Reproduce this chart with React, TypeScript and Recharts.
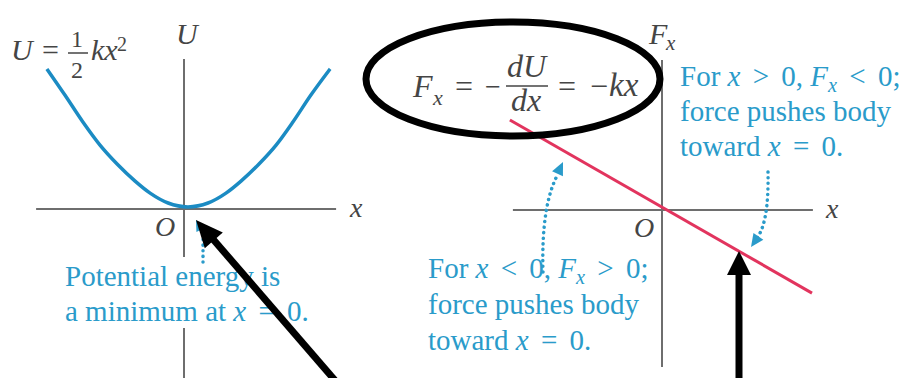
import React from "react";
import { LineChart, Line, XAxis, YAxis, ReferenceLine } from "recharts";

// Left panel: potential energy U = 1/2 k x^2
const uX = [-4.57, -3.97, -3.37, -2.8, -2.23, -1.63, -1.13, -0.53, 0.13, 0.8, 1.4, 1.9, 2.5, 3.07, 3.63, 4.23, 4.87];
const uValues = [4.67, 3.8, 2.9, 2.13, 1.5, 0.93, 0.53, 0.2, 0.07, 0.2, 0.53, 0.93, 1.5, 2.13, 2.9, 3.8, 4.67];

// Right panel: force F_x = -k x
const fX = [-5.07, 5.0];
const fValues = [3.0, -2.77];

// Axis extents (in chart units)
const leftXAxisRange = [-4.93, 5.07];
const leftYAxisSegments = [
  [5.0, -1.6],
  [-3.97, -5.8],
];
const rightXAxisRange = [-4.97, 5.03];
const rightYAxisRange = [5.0, -5.23];

const uData = uX.map((x, i) => ({ x, u: uValues[i] }));
const fData = fX.map((x, i) => ({ x, f: fValues[i] }));

const AXIS = "#6e6e6e";
const BLUE_CURVE = "#1b8bc3";
const BLUE_TEXT = "#2a9bca";
const RED = "#e2345e";
const DARK = "#454545";
const SERIF = "Liberation Serif";

function head(tx: number, ty: number, fx: number, fy: number, len: number, half: number) {
  const dx = fx - tx;
  const dy = fy - ty;
  const l = Math.sqrt(dx * dx + dy * dy);
  const ux = dx / l;
  const uy = dy / l;
  const bx = tx + ux * len;
  const by = ty + uy * len;
  const px = -uy * half;
  const py = ux * half;
  return `${tx},${ty} ${bx + px},${by + py} ${bx - px},${by - py}`;
}

const Lbl = ({ x, y, size = 28, color = DARK, italic = false, children }: any) => (
  <div
    style={{
      position: "absolute",
      left: x,
      top: y - 0.8375 * size,
      fontSize: size,
      lineHeight: `${size}px`,
      color,
      fontStyle: italic ? "italic" : "normal",
      whiteSpace: "pre",
      fontFamily: SERIF,
    }}
  >
    {children}
  </div>
);

const I = ({ children }: any) => <span style={{ fontStyle: "italic" }}>{children}</span>;
const Sub = ({ children }: any) => (
  <span style={{ fontStyle: "italic", fontSize: "0.7em", position: "relative", top: 6 }}>{children}</span>
);
const Op = ({ children }: any) => <span style={{ margin: "0 5px" }}>{children}</span>;

const TXT = 29;

export default function App() {
  return (
    <div
      style={{
        position: "fixed",
        left: 0,
        top: 0,
        width: 904,
        height: 378,
        background: "#fff",
        overflow: "hidden",
        fontFamily: SERIF,
      }}
    >
      <div style={{ position: "absolute", left: 4, top: 29 }}>
        <LineChart width={360} height={360} data={uData} margin={{ top: 0, right: 0, bottom: 0, left: 0 }}>
          <XAxis type="number" dataKey="x" domain={[-6, 6]} hide allowDataOverflow />
          <YAxis type="number" domain={[-6, 6]} hide allowDataOverflow />
          <ReferenceLine
            segment={[{ x: leftXAxisRange[0], y: 0 }, { x: leftXAxisRange[1], y: 0 }]}
            stroke={AXIS}
            strokeWidth={2}
          />
          {leftYAxisSegments.map((s, i) => (
            <ReferenceLine
              key={i}
              segment={[{ x: 0, y: s[0] }, { x: 0, y: s[1] }]}
              stroke={AXIS}
              strokeWidth={2}
            />
          ))}
          <Line
            dataKey="u"
            type="monotone"
            stroke={BLUE_CURVE}
            strokeWidth={3.5}
            dot={false}
            isAnimationActive={false}
          />
        </LineChart>
      </div>

      <div style={{ position: "absolute", left: 482, top: 30 }}>
        <LineChart width={360} height={360} data={fData} margin={{ top: 0, right: 0, bottom: 0, left: 0 }}>
          <XAxis type="number" dataKey="x" domain={[-6, 6]} hide allowDataOverflow />
          <YAxis type="number" domain={[-6, 6]} hide allowDataOverflow />
          <ReferenceLine
            segment={[{ x: rightXAxisRange[0], y: 0 }, { x: rightXAxisRange[1], y: 0 }]}
            stroke={AXIS}
            strokeWidth={2}
          />
          <ReferenceLine
            segment={[{ x: 0, y: rightYAxisRange[0] }, { x: 0, y: rightYAxisRange[1] }]}
            stroke={AXIS}
            strokeWidth={2}
          />
          <Line
            dataKey="f"
            type="linear"
            stroke={RED}
            strokeWidth={3}
            dot={false}
            isAnimationActive={false}
          />
        </LineChart>
      </div>

      {/* Left panel labels */}
      <Lbl x={176} y={44} size={30} italic>U</Lbl>
      <Lbl x={11} y={60} size={30} italic>U</Lbl>
      <Lbl x={42} y={60} size={30}>=</Lbl>
      <Lbl x={71} y={47} size={24}>1</Lbl>
      <Lbl x={71} y={78} size={24}>2</Lbl>
      <Lbl x={91} y={60} size={30} italic>kx</Lbl>
      <Lbl x={117} y={51} size={20}>2</Lbl>
      <Lbl x={350} y={217} size={28} italic>x</Lbl>
      <Lbl x={155} y={236} size={28} italic>O</Lbl>

      <Lbl x={65} y={286} size={TXT} color={BLUE_TEXT}>Potential energy is</Lbl>
      <Lbl x={65} y={321} size={TXT} color={BLUE_TEXT}>
        {"a minimum at "}
        <I>x</I>
        {" "}
        <Op>=</Op>
        {" 0."}
      </Lbl>

      {/* Right panel labels */}
      <Lbl x={649} y={44} size={30} italic>F</Lbl>
      <Lbl x={666} y={51} size={21} italic>x</Lbl>
      <Lbl x={826} y={218} size={28} italic>x</Lbl>
      <Lbl x={634} y={237} size={28} italic>O</Lbl>

      {/* Formula */}
      <Lbl x={413} y={97} size={32} italic>F</Lbl>
      <Lbl x={433} y={105} size={22} italic>x</Lbl>
      <Lbl x={455} y={97} size={32}>=</Lbl>
      <Lbl x={485} y={96} size={28}>−</Lbl>
      <Lbl x={507} y={77} size={32} italic>dU</Lbl>
      <Lbl x={511} y={111} size={32} italic>dx</Lbl>
      <Lbl x={558} y={97} size={32}>=</Lbl>
      <Lbl x={590} y={97} size={32}>−</Lbl>
      <Lbl x={609} y={97} size={33} italic>kx</Lbl>

      {/* Right top annotation */}
      <Lbl x={680} y={86} size={TXT} color={BLUE_TEXT}>
        {"For "}
        <I>x</I>
        {" "}
        <Op>&gt;</Op>
        {" 0, "}
        <I>F</I>
        <Sub>x</Sub>
        {" "}
        <Op>&lt;</Op>
        {" 0;"}
      </Lbl>
      <Lbl x={680} y={121} size={TXT} color={BLUE_TEXT}>force pushes body</Lbl>
      <Lbl x={680} y={156} size={TXT} color={BLUE_TEXT}>
        {"toward "}
        <I>x</I>
        {" "}
        <Op>=</Op>
        {" 0."}
      </Lbl>

      {/* Left bottom annotation */}
      <Lbl x={428} y={278} size={TXT} color={BLUE_TEXT}>
        {"For "}
        <I>x</I>
        {" "}
        <Op>&lt;</Op>
        {" 0, "}
        <I>F</I>
        <Sub>x</Sub>
        {" "}
        <Op>&gt;</Op>
        {" 0;"}
      </Lbl>
      <Lbl x={428} y={314} size={TXT} color={BLUE_TEXT}>force pushes body</Lbl>
      <Lbl x={428} y={350} size={TXT} color={BLUE_TEXT}>
        {"toward "}
        <I>x</I>
        {" "}
        <Op>=</Op>
        {" 0."}
      </Lbl>

      <svg
        width={904}
        height={378}
        style={{ position: "absolute", left: 0, top: 0, pointerEvents: "none" }}
      >
        {/* fraction bars */}
        <line x1={68} y1={53} x2={88} y2={53} stroke={DARK} strokeWidth={1.5} />
        <line x1={506} y1={86} x2={548} y2={86} stroke={DARK} strokeWidth={1.5} />

        {/* Left dotted arrow */}
        <path d="M203,262 L203,236" stroke={BLUE_TEXT} strokeWidth={3.5} strokeDasharray="0.1 5.5" strokeLinecap="round" fill="none" />
        <polygon points={head(196, 220, 203, 234, 11, 5)} fill={BLUE_TEXT} />

        {/* Curved dotted arrows */}
        <path d="M543,272 Q541,205 558,174" stroke={BLUE_TEXT} strokeWidth={3.5} strokeDasharray="0.1 5.5" strokeLinecap="round" fill="none" />
        <polygon points={head(563, 162, 556, 177, 13, 6)} fill={BLUE_TEXT} />
        <path d="M768,172 Q769,222 757,238" stroke={BLUE_TEXT} strokeWidth={3.5} strokeDasharray="0.1 5.5" strokeLinecap="round" fill="none" />
        <polygon points={head(751, 247, 760, 234, 13, 6)} fill={BLUE_TEXT} />

        {/* Black annotations */}
        <ellipse cx={513} cy={79} rx={147} ry={57} fill="none" stroke="#000" strokeWidth={7} />
        <line x1={345} y1={392} x2={212} y2={238} stroke="#000" strokeWidth={7} />
        <polygon points={head(196, 220, 345, 390, 27, 12)} fill="#000" />
        <line x1={739} y1={392} x2={739} y2={272} stroke="#000" strokeWidth={7} />
        <polygon points={head(739, 251, 739, 300, 24, 12)} fill="#000" />
      </svg>
    </div>
  );
}
